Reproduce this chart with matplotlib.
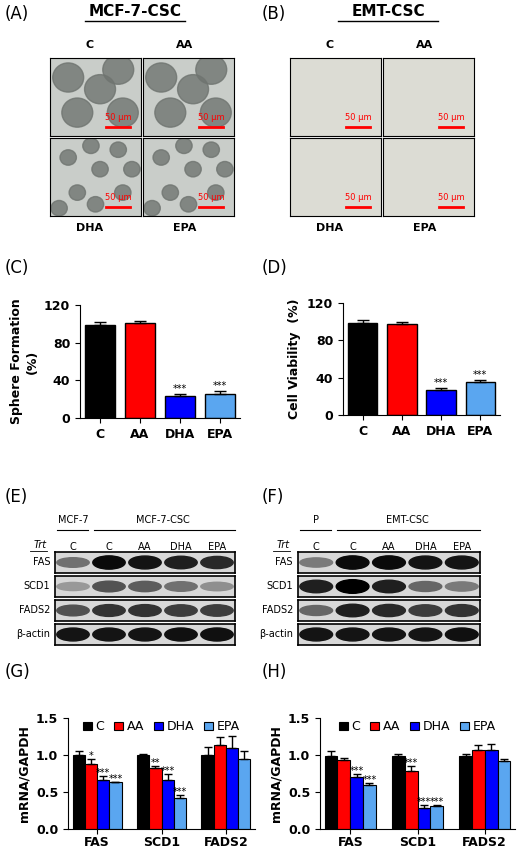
import matplotlib
matplotlib.use("Agg")
import matplotlib.pyplot as plt
from matplotlib.patches import Rectangle, Ellipse
import numpy as np

W, H = 520, 856
fig = plt.figure(figsize=(W/100, H/100), dpi=100)
fig.patch.set_facecolor("white")

groups = ["C", "AA", "DHA", "EPA"]
colors = ["#000000", "#ff0000", "#0000ff", "#5aa6f0"]
sphere = [99, 101, 23, 25]
sphere_err = [3, 2, 3, 4]
viab = [99, 97, 27, 35]
viab_err = [3, 3, 2, 3]
genes = ["FAS", "SCD1", "FADS2"]
g_vals = [[1.00, 0.88, 0.66, 0.63], [1.00, 0.82, 0.66, 0.42], [1.00, 1.14, 1.10, 0.95]]
g_err = [[0.05, 0.07, 0.06, 0.01], [0.01, 0.03, 0.08, 0.04], [0.11, 0.10, 0.16, 0.10]]
g_sig = [["", "*", "***", "***"], ["", "**", "***", "***"], ["", "", "", ""]]
h_vals = [[0.98, 0.93, 0.70, 0.59], [0.98, 0.79, 0.29, 0.31], [0.98, 1.07, 1.07, 0.92]]
h_err = [[0.07, 0.03, 0.04, 0.03], [0.04, 0.06, 0.03, 0.01], [0.04, 0.06, 0.08, 0.03]]
h_sig = [["", "", "***", "***"], ["", "***", "***", "***"], ["", "", "", ""]]
blot_rows = ["FAS", "SCD1", "FADS2", "β-actin"]
e_bands = [[0.45, 0.95, 0.9, 0.85, 0.8], [0.25, 0.6, 0.55, 0.45, 0.3], [0.6, 0.75, 0.75, 0.7, 0.7], [0.9, 0.9, 0.9, 0.92, 0.92]]
f_bands = [[0.4, 0.95, 0.95, 0.9, 0.9], [0.85, 1.0, 0.85, 0.5, 0.4], [0.5, 0.85, 0.8, 0.7, 0.75], [0.9, 0.9, 0.9, 0.9, 0.92]]
lanes = ["C", "C", "AA", "DHA", "EPA"]

def fx(x): return x / W
def fy(y): return 1 - y / H

def txt(x, y, s, **kw):
    fig.text(fx(x), fy(y), s, **kw)

def pix_axes(x0, y0, x1, y1):
    return fig.add_axes([fx(x0), fy(y1), fx(x1 - x0), (y1 - y0) / H])

for lab, x, y in [("(A)", 5, 14), ("(B)", 262, 14), ("(C)", 5, 268), ("(D)", 262, 268),
                  ("(E)", 5, 497), ("(F)", 262, 497), ("(G)", 5, 672), ("(H)", 262, 672)]:
    txt(x, y, lab, fontsize=12, va="center")

def micro(x0, title, tx, dark):
    txt(tx, 12, title, fontsize=11, fontweight="bold", ha="center", va="center")
    fig.add_artist(plt.Line2D([fx(tx - 50), fx(tx + 50)], [fy(21), fy(21)], color="black", lw=1))
    for (lab, lx, ly) in [("C", x0 + 40, 45), ("AA", x0 + 135, 45), ("DHA", x0 + 40, 228), ("EPA", x0 + 135, 228)]:
        txt(lx, ly, lab, fontsize=8, fontweight="bold", ha="center", va="center")
    for i, (ix, iy) in enumerate([(x0, 58), (x0 + 93, 58), (x0, 138), (x0 + 93, 138)]):
        ax = pix_axes(ix, iy, ix + 91, iy + 78)
        ax.set_xlim(0, 1); ax.set_ylim(0, 1)
        ax.set_facecolor("#c9cdc9" if dark else "#dcdcd4")
        ax.set_xticks([]); ax.set_yticks([])
        if dark:
            n = 5 if i < 2 else 9
            r = 0.17 if i < 2 else 0.09
            pts = [(0.2, 0.75), (0.55, 0.6), (0.8, 0.3), (0.3, 0.3), (0.75, 0.85), (0.1, 0.1), (0.5, 0.15), (0.9, 0.6), (0.45, 0.9)]
            for (px, py) in pts[:n]:
                ax.add_patch(Ellipse((px, py), r * 2, r * 2.2, color="#6f7470", alpha=0.8))
        ax.plot([0.62, 0.88], [0.12, 0.12], color="red", lw=2)
        ax.text(0.75, 0.2, "50 μm", color="red", fontsize=6, ha="center")

micro(50, "MCF-7-CSC", 135, True)
micro(290, "EMT-CSC", 388, False)

def simple(ax, vals, errs, ylabel):
    x = np.arange(4)
    ax.bar(x, vals, width=0.75, color=colors, edgecolor="black", lw=1)
    ax.errorbar(x, vals, yerr=[[0]*4, errs], fmt="none", ecolor="black", capsize=4, lw=1)
    for i in (2, 3):
        ax.text(i, vals[i] + errs[i] + 2, "***", ha="center", fontsize=7)
    ax.set_ylim(0, 120); ax.set_yticks([0, 40, 80, 120])
    ax.set_xlim(-0.5, 3.5)
    ax.set_xticks(x); ax.set_xticklabels(groups, fontweight="bold", fontsize=9)
    ax.tick_params(axis="y", labelsize=9)
    for t in ax.get_yticklabels(): t.set_fontweight("bold")
    ax.spines[["top", "right"]].set_visible(False)
    ax.set_ylabel(ylabel, fontweight="bold", fontsize=9)

axc = pix_axes(80, 305, 240, 418)
simple(axc, sphere, sphere_err, "Sphere Formation\n(%)")
axd = pix_axes(343, 303, 500, 415)
simple(axd, viab, viab_err, "Cell Viability  (%)")

def blot(x0, x1, bands, head1, head2):
    lw_ = (x1 - x0) / 5
    txt(x0 + lw_ * 0.5, 520, head1, fontsize=7, ha="center", va="center")
    txt(x0 + lw_ * 3, 520, head2, fontsize=7, ha="center", va="center")
    fig.add_artist(plt.Line2D([fx(x0 + 2), fx(x0 + lw_ - 3)], [fy(530), fy(530)], color="black", lw=0.8))
    fig.add_artist(plt.Line2D([fx(x0 + lw_ + 3), fx(x1)], [fy(530), fy(530)], color="black", lw=0.8))
    txt(x0 - 8, 545, "Trt", fontsize=7, style="italic", ha="right", va="center")
    fig.add_artist(plt.Line2D([fx(x0 - 25), fx(x0 - 8)], [fy(551), fy(551)], color="black", lw=0.6))
    for j, l in enumerate(lanes):
        txt(x0 + lw_ * (j + 0.5), 547, l, fontsize=7, ha="center", va="center")
    for r, name in enumerate(blot_rows):
        y0 = 552 + r * 24
        ax = pix_axes(x0, y0, x1, y0 + 21)
        ax.set_xlim(0, 5); ax.set_ylim(0, 1)
        ax.set_facecolor("#d8d8d8"); ax.set_xticks([]); ax.set_yticks([])
        for s in ax.spines.values(): s.set_lw(1.2)
        for j, v in enumerate(bands[r]):
            g = 1 - v
            ax.add_patch(Ellipse((j + 0.5, 0.5), 0.9, 0.3 + 0.35 * v, color=(g*0.8, g*0.8, g*0.8)))
        txt(x0 - 5, y0 + 10, name, fontsize=7, ha="right", va="center")

blot(55, 235, e_bands, "MCF-7", "MCF-7-CSC")
blot(298, 480, f_bands, "P", "EMT-CSC")

def grouped(ax, vals, errs, sigs):
    w = 0.19
    for k in range(4):
        xs = np.arange(3) + (k - 1.5) * w
        v = [vals[g][k] for g in range(3)]
        e = [errs[g][k] for g in range(3)]
        ax.bar(xs, v, width=w, color=colors[k], edgecolor="black", lw=0.8, label=groups[k])
        ax.errorbar(xs, v, yerr=[[0]*3, e], fmt="none", ecolor="black", capsize=3, lw=1)
        for g in range(3):
            if sigs[g][k]:
                ax.text(xs[g], v[g] + e[g], sigs[g][k], ha="center", fontsize=7)
    ax.set_ylim(0, 1.5); ax.set_yticks([0, 0.5, 1.0, 1.5])
    ax.set_yticklabels(["0.0", "0.5", "1.0", "1.5"], fontweight="bold", fontsize=9)
    ax.set_xlim(-0.45, 2.45)
    ax.set_xticks(range(3)); ax.set_xticklabels(genes, fontweight="bold", fontsize=9)
    ax.tick_params(axis="x", pad=1.5)
    ax.spines[["top", "right"]].set_visible(False)
    ax.set_ylabel("mRNA/GAPDH", fontweight="bold", fontsize=9)
    ax.legend(ncol=4, loc="upper center", bbox_to_anchor=(0.5, 1.08), frameon=False,
              fontsize=9, handlelength=0.7, handletextpad=0.3, columnspacing=0.8)

axg = pix_axes(68, 718, 255, 829)
grouped(axg, g_vals, g_err, g_sig)
axh = pix_axes(320, 718, 515, 829)
grouped(axh, h_vals, h_err, h_sig)

fig.savefig("out.png", dpi=100)
